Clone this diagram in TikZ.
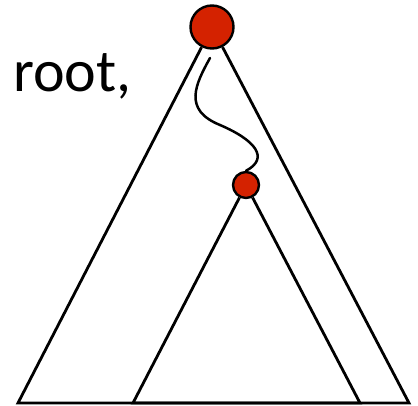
\documentclass[tikz,border=0pt]{standalone}
\usepackage{fontspec}
\setmainfont{Carlito}
\usepackage{xcolor}
\usepackage{tikz}
\definecolor{nodered}{RGB}{212,34,0}
\tikzset{every picture/.append style={line width=2.8pt}}
\tikzset{treenode/.style={circle,draw=black,fill=nodered,inner sep=0pt,line width=2.4pt}}

\begin{document}
\begin{tikzpicture}[x=1pt,y=-1pt,line join=miter]
    \useasboundingbox (0,0) rectangle (418,406);
    % big tree
    \node[treenode,minimum size=43pt] (root) at (212,27) {};
    \coordinate (bigleft) at (18,403);
    \coordinate (bigright) at (409,403);
    \draw (root) -- (bigleft) -- (bigright) -- (root);
    % subtree
    \node[treenode,minimum size=26pt] (sub) at (246,185) {};
    \coordinate (subleft) at (133,403);
    \coordinate (subright) at (360,403);
    \draw (sub) -- (subleft) -- (subright) -- (sub);
    % path down to the subtree root
    \coordinate (pathstart) at (210,58);
    \draw[line width=2.5pt,line cap=round] (pathstart) .. controls (195,85) and (183,110) .. (220,125)
      .. controls (255,140) and (270,158) .. (sub.north);
    \node[anchor=base west,inner sep=0pt,font=\fontsize{60}{62}\selectfont] (label) at (12,92) {root,};
  \end{tikzpicture}
\end{document}
